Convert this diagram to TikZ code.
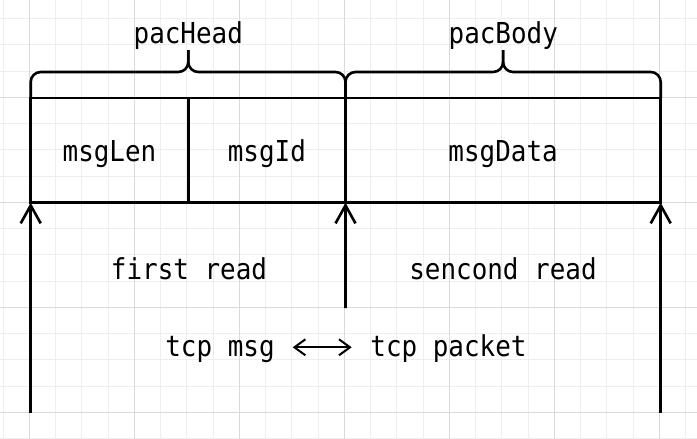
\documentclass[tikz,border=0pt]{standalone}
\usepackage{fontspec}
\newfontfamily\dmono{DejaVu Sans Mono}[FakeStretch=0.9]
\usetikzlibrary{arrows.meta,calc}
\definecolor{gridmajor}{HTML}{DADADA}
\definecolor{gridminor}{HTML}{EEEEEE}
\begin{document}
\begin{tikzpicture}[x=1pt,y=-1pt,
  lbl/.style={font=\dmono\fontsize{28.8}{30}\selectfont, inner sep=0pt, text height=22.7pt, text depth=0pt},
  cell/.style={lbl, draw=black, line width=2.6pt, outer sep=0pt, minimum height=104.7pt},
  edge/.style={line width=2.6pt, black},
  upar/.style={edge, -{Straight Barb[length=18pt,width=20pt,line width=2.6pt]}},
  dbl/.style={line width=2pt, {Straight Barb[length=11pt,width=16pt,line width=2pt]}-{Straight Barb[length=11pt,width=16pt,line width=2pt]}},
  brace/.style={edge, rounded corners=10pt},
  minorline/.style={gridminor, line width=1pt},
  majorline/.style={gridmajor, line width=1pt}]
\useasboundingbox (0,0) rectangle (697,439);
\fill[white] (0,0) rectangle (697,439);
% grid
\foreach \i in {0,...,26} \draw[minorline] (3.05+26.25*\i,0) -- (3.05+26.25*\i,439);
\foreach \i in {0,...,17} \draw[minorline] (0,-7.7+26.25*\i) -- (697,-7.7+26.25*\i);
\foreach \i in {0,...,6} \draw[majorline] (29.3+105*\i,0) -- (29.3+105*\i,439);
\foreach \i in {0,...,4} \draw[majorline] (0,-7.7+105*\i) -- (697,-7.7+105*\i);
% cells
\node[cell, minimum width=157.6pt] (len) at (109.5,150.35) {msgLen};
\node[cell, minimum width=157.2pt] (id) at (266.9,150.35) {msgId};
\node[cell, minimum width=315.2pt] (data) at (503.1,150.35) {msgData};
% braces
\coordinate (htip) at (188.3,50);
\coordinate (btip) at (503.1,50);
\draw[brace] (len.north west) -- (len.north west |- 0,72) -- (htip |- 0,72) -- (htip);
\draw[brace] (htip) -- (htip |- 0,72) -- (id.north east |- 0,72) -- (id.north east);
\draw[brace] (data.north west) -- (data.north west |- 0,72) -- (btip |- 0,72) -- (btip);
\draw[brace] (btip) -- (btip |- 0,72) -- (data.north east |- 0,72) -- (data.north east);
\node[lbl] (head) at (188.3,32) {pacHead};
\node[lbl] (body) at (503.3,32) {pacBody};
% arrows
\coordinate (b1) at (30.7,413);
\coordinate (b2) at (345.5,308);
\coordinate (b3) at (660.7,413);
\draw[upar] (b1) -- (len.south west);
\draw[upar] (b2) -- (id.south east);
\draw[upar] (b3) -- (data.south east);
\node[lbl] (first) at (189,267.65) {first read};
\node[lbl] (second) at (503,267.65) {sencond read};
\node[lbl] (msg) at (220,345.35) {tcp msg};
\node[lbl] (packet) at (448.5,345.35) {tcp packet};
\coordinate (al) at (292.7,347.3);
\coordinate (ar) at (351.7,347.3);
\draw[dbl] (al) -- (ar);
\end{tikzpicture}
\end{document}
